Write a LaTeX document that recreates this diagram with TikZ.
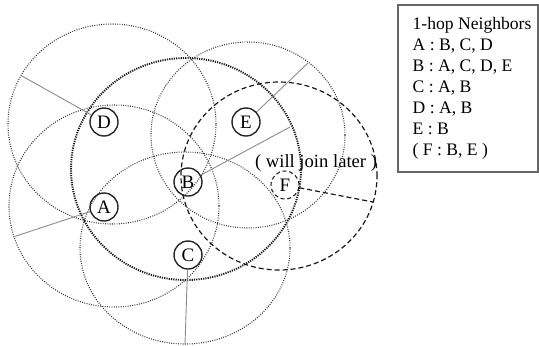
\documentclass[tikz,border=0pt]{standalone}
\usepackage{fontspec}
\setmainfont{Liberation Serif}
\usepackage{tikz}
\usetikzlibrary{calc}

\begin{document}
\begin{tikzpicture}[
    x=0.5pt, y=0.5pt,
    % Style pour les stations (cercles avec lettre)
    stnode/.style={circle, draw=black!85, line width=0.7pt, minimum size=14pt, inner sep=0pt, font=\fontsize{9.5}{10}\selectfont},
    % Station qui rejoindra plus tard (cercle en tirets)
    newnode/.style={stnode, line width=0.55pt, dash pattern=on 2pt off 1.4pt},
    % Portee radio de chaque station (pointilles)
    rangezone/.style={draw=black!80, line width=0.55pt, dash pattern=on 0.45pt off 0.7pt},
    bigzone/.style={draw=black!90, line width=0.95pt, dash pattern=on 0.6pt off 0.55pt},
    newzone/.style={draw=black!90, line width=0.6pt, dash pattern=on 2.5pt off 1.5pt},
    % Style pour les rayons
    rayline/.style={draw=black!45, line width=0.45pt},
    % Cadre de la legende
    legbox/.style={draw=black!60, line width=0.75pt, minimum width=70pt, minimum height=83.5pt, inner sep=0pt},
    legtext/.style={align=left, inner sep=0pt, font=\fontsize{8.8}{10.5}\selectfont}
]
\useasboundingbox (0,0) rectangle (539,-345);

% Stations
\node[stnode] (D) at (104,-122) {D};
\node[stnode] (E) at (246,-122) {E};
\node[stnode] (B) at (188,-182) {B};
\node[stnode] (A) at (104,-207) {A};
\node[stnode] (C) at (188,-255) {C};
\node[newnode] (F) at (285,-185) {F};
\node[font=\fontsize{9.3}{11}\selectfont] (later) at (316,-163) {( will join later )};

% Portees
\draw[rangezone] (112,-124) ellipse [x radius=104, y radius=100];
\draw[rangezone] (114,-206) ellipse [x radius=105, y radius=101];
\draw[rangezone] (185,-248) ellipse [x radius=105, y radius=96];
\draw[rangezone] (248,-135) ellipse [x radius=97, y radius=93];
\draw[bigzone] (186,-169) ellipse [x radius=115, y radius=111];
\draw[newzone] (279,-176) ellipse [x radius=98, y radius=94];

% Extremites des rayons
\coordinate (rD) at (22,-76);
\coordinate (rA) at (13,-237);
\coordinate (rC) at (185,-344);
\coordinate (rE) at (308,-63);
\coordinate (rB) at (290,-127);
\coordinate (rF) at (373,-202);

\draw[rayline] (D) -- (rD);
\draw[rayline] (A) -- (rA);
\draw[rayline] (C) -- (rC);
\draw[rayline] (E) -- (rE);
\draw[rayline] (B) -- (rB);
\draw[newzone] (F) -- (rF);

% Legende
\node[legbox] (legend) at (468,-88.5) {};
\node[legtext, anchor=west] (legtxt) at ([xshift=7.5pt]legend.west) {1-hop Neighbors\\
 A : B, C, D\\
 B : A, C, D, E\\
 C : A, B\\
 D : A, B\\
 E : B\\
 ( F : B, E )};

\end{tikzpicture}
\end{document}
